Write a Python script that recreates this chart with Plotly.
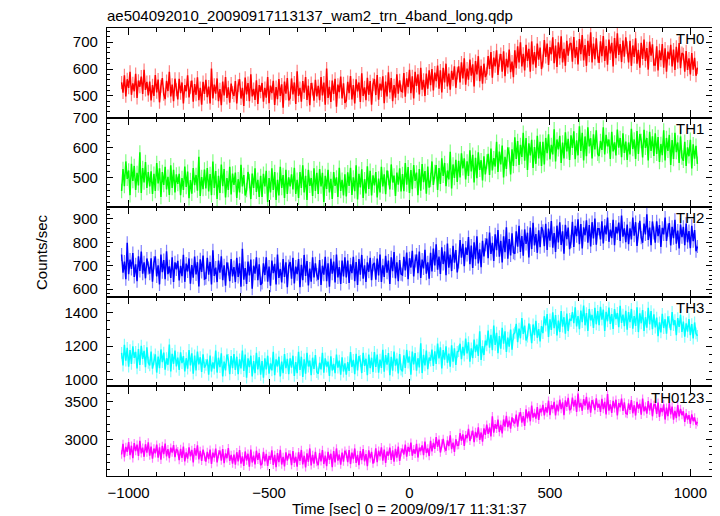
import numpy as np
import plotly.graph_objects as go
from plotly.subplots import make_subplots

# ---------------- data ----------------
time_sec = np.arange(-1025, 1026, 5)  # 411 time bins (5 s)

th0 = [
    550,512,577,498,562,530,590,504,547,517,582,492,557,534,572,507,597,522,552,502,
    553,483,540,500,578,513,561,476,536,566,506,488,556,518,590,498,542,480,564,523,
    487,564,510,550,472,540,517,577,494,532,557,478,544,504,569,484,530,467,552,507,
    560,495,535,472,602,490,542,508,565,480,525,465,553,502,570,492,532,475,546,512,
    500,555,472,538,562,490,530,462,568,505,548,480,580,498,526,485,558,470,540,515,
    548,478,530,493,570,473,538,510,556,466,533,488,563,500,543,456,553,508,566,483,
    492,565,505,550,470,592,500,530,478,555,512,570,485,538,465,548,525,482,560,498,
    537,484,570,502,550,467,602,492,534,477,557,507,564,460,542,514,572,490,547,474,
    482,552,510,574,487,540,472,562,517,550,477,584,500,532,484,567,504,555,467,542,
    563,503,578,486,546,520,573,473,553,498,588,513,566,480,540,493,580,508,558,518,
    515,585,497,565,533,597,510,573,490,590,537,580,505,605,523,560,500,583,527,595,
    540,600,520,587,555,613,527,595,513,605,550,620,535,583,523,593,560,610,530,585,
    610,550,625,565,640,542,602,560,635,575,618,535,630,580,648,555,612,545,620,570,
    583,648,600,663,568,643,610,670,578,633,656,590,666,573,638,606,673,588,628,570,
    670,603,685,625,700,610,657,595,690,630,675,590,703,617,663,605,695,635,680,600,
    630,708,645,695,615,682,655,718,622,688,608,700,640,722,625,675,612,705,650,692,
    697,627,719,642,682,617,712,655,727,632,689,612,705,649,737,625,695,637,715,647,
    623,703,648,723,630,686,616,710,658,698,610,716,640,733,653,693,626,706,646,718,
    680,625,705,612,688,645,715,620,672,605,698,638,710,630,678,598,702,650,692,615,
    615,685,595,670,633,693,605,677,590,665,637,690,610,673,597,683,625,697,603,660,
    655,590,667,597,640,580,660,598,642,575,605,
]

th1 = [
    457,530,473,555,497,525,443,547,490,540,460,517,475,585,450,533,485,553,467,520,
    472,522,447,514,457,550,482,532,437,520,477,537,462,504,444,542,467,527,452,512,
    480,514,443,500,460,538,470,521,433,493,448,533,476,510,458,570,440,503,463,528,
    465,533,455,513,443,555,467,523,430,507,450,545,473,530,435,500,460,537,445,515,
    477,518,434,496,452,544,472,510,442,460,520,490,430,515,467,532,454,494,437,507,
    437,514,472,524,420,500,452,532,460,520,427,494,442,537,467,510,434,527,447,502,
    472,512,462,534,447,494,434,520,467,542,452,507,427,527,474,500,440,532,457,517,
    447,530,472,517,420,507,464,527,452,497,430,520,474,502,437,534,457,494,442,512,
    439,519,474,534,444,502,456,542,429,514,469,529,434,496,449,539,464,524,442,509,
    475,520,435,498,452,537,472,512,446,525,500,462,545,485,508,440,518,478,532,455,
    513,456,550,478,536,450,526,463,543,490,518,443,530,458,546,486,523,448,538,468,
    493,555,477,520,543,460,533,480,565,507,550,473,525,495,587,465,545,500,560,487,
    557,502,582,532,565,495,555,507,592,522,577,485,567,499,585,527,559,492,572,512,
    555,580,510,598,525,566,538,620,520,588,545,608,502,570,530,602,578,512,595,540,
    635,563,623,543,610,570,650,557,633,527,615,575,627,533,603,547,640,565,620,540,
    620,545,633,582,645,562,610,578,662,555,628,595,640,550,618,565,652,588,630,560,
    642,600,655,562,625,575,672,590,650,558,638,572,668,605,632,565,645,595,658,580,
    573,623,593,668,578,643,605,628,563,653,588,618,575,661,601,633,569,648,583,621,
    560,618,578,663,596,628,563,656,580,646,623,568,660,600,633,558,653,590,638,573,
    648,580,636,553,613,576,658,558,633,590,643,543,626,563,650,586,618,550,638,568,
    557,620,540,602,572,627,532,612,564,607,547,
]

th2 = [
    748,670,718,642,798,664,726,686,754,652,706,634,740,678,760,666,714,646,731,690,
    666,732,632,712,740,654,702,620,748,672,724,642,762,664,697,648,736,630,714,684,
    721,637,699,655,747,631,709,675,731,623,703,649,739,663,715,611,727,673,743,643,
    646,734,662,716,620,766,656,692,630,722,670,740,638,702,614,714,686,634,728,654,
    694,630,734,652,710,610,772,640,690,622,718,658,726,602,700,666,736,638,706,618,
    626,710,660,736,632,696,614,722,668,708,620,748,648,686,628,728,652,714,608,698,
    716,644,734,624,696,664,728,608,704,638,746,656,720,616,688,632,736,650,710,662,
    640,724,618,700,662,738,634,710,610,730,666,718,628,748,650,694,622,722,654,736,
    650,722,626,706,668,738,634,716,618,728,662,746,644,702,630,714,674,734,638,704,
    712,640,730,658,748,630,702,652,742,670,722,622,736,676,758,646,714,634,724,664,
    660,738,680,756,642,732,692,764,654,720,748,668,760,648,726,688,768,666,714,644,
    755,675,773,701,791,683,739,665,779,707,761,659,795,691,747,677,785,713,767,671,
    716,810,734,794,698,778,746,822,706,786,690,800,728,826,710,770,694,806,740,790,
    816,732,842,750,798,720,834,766,852,738,806,714,826,758,864,730,814,744,838,756,
    751,847,781,871,759,827,743,855,793,841,735,863,771,883,787,835,755,851,779,865,
    849,783,879,767,859,807,891,777,839,759,871,799,885,789,847,751,875,813,863,771,
    804,888,780,870,826,898,792,878,774,864,830,894,798,874,782,886,816,902,790,858,
    858,812,890,795,872,834,906,802,854,818,896,788,866,838,884,806,914,824,860,800,
    876,792,860,812,906,828,886,784,856,892,820,798,880,834,920,810,863,788,889,840,
    798,890,826,874,780,862,834,906,806,852,882,787,866,818,896,794,850,774,876,822,
    866,788,880,800,848,775,870,805,852,762,782,
]

th3 = [
    1160,1085,1208,1114,1189,1078,1176,1094,1198,1130,1166,1068,1182,1088,1202,1124,1172,1075,1192,1101,
    1086,1167,1066,1121,1151,1043,1138,1069,1180,1105,1161,1060,1128,1089,1209,1050,1154,1095,1173,1079,
    1131,1059,1163,1099,1141,1050,1128,1066,1177,1085,1157,1037,1144,1056,1167,1092,1134,1047,1151,1072,
    1089,1121,1030,1144,1049,1103,1066,1173,1043,1131,1075,1157,1020,1108,1056,1150,1118,1033,1141,1069,
    1153,1059,1137,1033,1121,1068,1173,1052,1150,1013,1127,1075,1143,1020,1111,1039,1160,1062,1134,1030,
    1111,1013,1128,1062,1143,1036,1098,1056,1166,1027,1121,1079,1137,1020,1108,1039,1153,1069,1124,1033,
    1127,1072,1143,1023,1105,1039,1166,1059,1137,1017,1121,1036,1160,1079,1114,1027,1131,1065,1147,1046,
    1036,1101,1062,1160,1042,1127,1078,1108,1023,1140,1055,1094,1039,1150,1072,1114,1031,1134,1049,1098,
    1030,1105,1053,1164,1076,1118,1034,1154,1056,1141,1112,1040,1160,1082,1125,1027,1150,1069,1131,1046,
    1165,1077,1149,1042,1120,1071,1178,1048,1146,1090,1158,1028,1136,1054,1168,1084,1126,1038,1152,1061,
    1050,1145,1070,1177,1102,1138,1031,1167,1092,1158,1054,1128,1073,1216,1040,1148,1086,1174,1063,1132,
    1114,1179,1082,1169,1094,1215,1127,1192,1068,1176,1120,1198,1101,1156,1078,1205,1107,1186,1088,1166,
    1170,1214,1122,1196,1144,1245,1157,1223,1108,1186,1128,1238,1164,1209,1141,1287,1118,1200,1147,1232,
    1204,1292,1191,1266,1175,1321,1207,1279,1158,1259,1184,1308,1214,1288,1165,1250,1197,1298,1178,1269,
    1279,1332,1223,1303,1246,1366,1272,1321,1233,1256,1334,1295,1217,1328,1265,1350,1249,1301,1227,1318,
    1277,1377,1322,1390,1254,1358,1296,1400,1306,1384,1263,1351,1283,1407,1315,1371,1273,1393,1289,1361,
    1349,1401,1336,1430,1316,1378,1300,1411,1342,1440,1323,1395,1290,1420,1352,1385,1307,1427,1329,1408,
    1324,1432,1357,1416,1289,1403,1347,1428,1331,1390,1302,1419,1360,1396,1312,1438,1337,1386,1318,1409,
    1297,1401,1342,1420,1303,1378,1319,1430,1283,1394,1335,1413,1290,1371,1309,1427,1329,1407,1300,1388,
    1310,1369,1258,1340,1281,1391,1307,1359,1273,1376,1343,1294,1402,1324,1353,1265,1366,1314,1385,1284,
    1345,1255,1335,1285,1360,1265,1330,1245,1340,1275,1260,
]

th0123 = [
    2800,2940,2764,2900,2836,2964,2790,2916,2750,2950,2844,2930,2780,2980,2816,2890,2770,2936,2824,2960,
    2785,2905,2745,2879,2815,2931,2759,2895,2731,2915,2805,2945,2775,2871,2751,2891,2825,2925,2765,2875,
    2845,2725,2875,2755,2905,2709,2829,2745,2895,2775,2861,2695,2885,2785,2921,2735,2849,2715,2865,2765,
    2705,2835,2739,2865,2675,2825,2759,2879,2695,2805,2851,2719,2871,2685,2815,2751,2885,2715,2795,2679,
    2800,2666,2830,2710,2860,2680,2774,2650,2840,2720,2810,2640,2866,2694,2786,2670,2850,2730,2820,2660,
    2678,2834,2708,2808,2648,2782,2728,2854,2662,2794,2634,2818,2698,2862,2668,2768,2642,2828,2718,2802,
    2800,2660,2844,2690,2770,2640,2830,2716,2860,2670,2784,2630,2816,2704,2880,2656,2796,2680,2836,2700,
    2660,2820,2710,2860,2674,2786,2646,2834,2730,2810,2634,2846,2694,2880,2720,2800,2666,2826,2706,2850,
    2810,2700,2860,2674,2826,2740,2880,2690,2794,2660,2846,2726,2870,2710,2806,2646,2854,2750,2834,2680,
    2740,2880,2700,2850,2776,2896,2720,2864,2690,2840,2784,2890,2730,2856,2704,2876,2760,2904,2716,2830,
    2876,2800,2930,2772,2900,2836,2956,2784,2870,2810,2940,2760,2890,2844,2920,2790,2970,2820,2880,2780,
    2980,2840,2954,2874,3030,2900,2996,2826,2946,3006,2886,2850,2986,2910,3054,2870,2958,2834,3002,2920,
    2925,3084,2981,3066,2915,3056,3015,3140,2979,3060,3115,2962,3099,3024,3159,2994,3091,2970,3145,3060,
    3195,3072,3159,3040,3306,3089,3200,3139,3260,3097,3193,3080,3263,3168,3311,3162,3248,3141,3290,3229,
    3210,3326,3167,3305,3359,3222,3308,3178,3397,3277,3369,3239,3446,3288,3350,3275,3427,3257,3404,3360,
    3455,3318,3425,3354,3511,3320,3453,3400,3495,3318,3458,3371,3524,3401,3490,3319,3516,3429,3548,3385,
    3406,3552,3432,3522,3362,3606,3422,3482,3378,3532,3446,3562,3392,3498,3352,3518,3472,3386,3542,3418,
    3470,3364,3536,3400,3496,3330,3600,3380,3464,3350,3510,3410,3524,3316,3480,3424,3540,3376,3490,3344,
    3335,3475,3391,3519,3345,3451,3315,3495,3405,3471,3325,3539,3371,3435,3339,3505,3379,3481,3305,3455,
    3460,3337,3485,3298,3415,3361,3464,3262,3419,3306,3484,3331,3434,3260,3377,3281,3452,3305,3403,3320,
    3370,3230,3345,3262,3320,3205,3330,3240,3290,3195,3230,
]

band_names = ["TH0", "TH1", "TH2", "TH3", "TH0123"]
band_series = [th0, th1, th2, th3, th0123]
band_errors = [24, 24, 28, 35, 55]  # typical 1-sigma error (counts/sec)

title_text = "ae504092010_20090917113137_wam2_trn_4band_long.qdp"
x_title = "Time [sec] 0 = 2009/09/17 11:31:37"
y_title = "Counts/sec"

# ---------------- styling ----------------
colors = ["#ff0000", "#00ff00", "#0000ff", "#00ffff", "#ff00ff"]
err_colors = ["rgba(255,0,0,0.5)", "rgba(0,255,0,0.5)", "rgba(0,0,255,0.5)",
              "rgba(0,255,255,0.5)", "rgba(255,0,255,0.5)"]
y_ranges = [[419, 753], [403, 700.5], [567, 950], [961, 1492], [2516, 3700]]
y_dticks = [100, 100, 100, 200, 500]
y_minor = [20, 20, 20, 50, 100]

FONT = "Liberation Sans, Arial, Helvetica, sans-serif"

fig = make_subplots(rows=5, cols=1, shared_xaxes=True, vertical_spacing=0)

for i, (name, ser) in enumerate(zip(band_names, band_series)):
    fig.add_trace(
        go.Scatter(
            x=time_sec[:len(ser)], y=ser, mode="lines", name=name,
            line=dict(color=colors[i], width=1.5),
            error_y=dict(type="constant", value=band_errors[i], width=0,
                         thickness=1.2, color=err_colors[i]),
            showlegend=False, hoverinfo="x+y",
        ),
        row=i + 1, col=1,
    )
    fig.update_yaxes(
        range=y_ranges[i], dtick=y_dticks[i], tick0=0,
        ticks="inside", ticklen=6, tickwidth=1, tickcolor="black",
        minor=dict(dtick=y_minor[i], tick0=0, ticks="inside", ticklen=3,
                   tickcolor="black", tickwidth=1, showgrid=False),
        showline=True, linecolor="black", linewidth=1.3, mirror="allticks",
        showgrid=False, zeroline=False,
        tickfont=dict(size=15, color="black", family=FONT),
        ticklabelstandoff=5,
        row=i + 1, col=1,
    )
    fig.update_xaxes(
        range=[-1077, 1077], dtick=500, tick0=0,
        ticks="inside", ticklen=7, tickwidth=1, tickcolor="black",
        minor=dict(dtick=100, tick0=0, ticks="inside", ticklen=4,
                   tickcolor="black", tickwidth=1, showgrid=False),
        showline=True, linecolor="black", linewidth=1.3, mirror="allticks",
        showgrid=False, zeroline=False,
        tickfont=dict(size=15, color="black", family=FONT),
        ticklabelstandoff=3,
        row=i + 1, col=1,
    )
    fig.add_annotation(
        text=name, xref="x domain" if i == 0 else f"x{i+1} domain",
        yref="y domain" if i == 0 else f"y{i+1} domain",
        x=0.99, y=0.88, xanchor="right", yanchor="middle",
        showarrow=False, font=dict(size=15, color="black", family=FONT),
    )

# overall labels
fig.add_annotation(
    text=title_text, xref="paper", yref="paper", x=-0.003, y=1.0,
    xanchor="left", yanchor="bottom", yshift=2, showarrow=False,
    font=dict(size=15, color="black", family=FONT),
)
fig.add_annotation(
    text=y_title, xref="paper", yref="paper", x=0, y=0.5,
    xanchor="center", yanchor="middle", xshift=-66, textangle=-90,
    showarrow=False, font=dict(size=15, color="black", family=FONT),
)
fig.add_annotation(
    text=x_title, xref="paper", yref="paper", x=0.5, y=0,
    xanchor="center", yanchor="middle", yshift=-32,
    showarrow=False, font=dict(size=15, color="black", family=FONT),
)

# the page body adds an 8 px margin, so the figure is sized to fit the window
fig.update_layout(
    width=712, height=508,
    margin=dict(l=99, r=8, t=20, b=40),
    paper_bgcolor="white", plot_bgcolor="white",
    font=dict(family=FONT, color="black"),
)

fig.write_html("out.html")
